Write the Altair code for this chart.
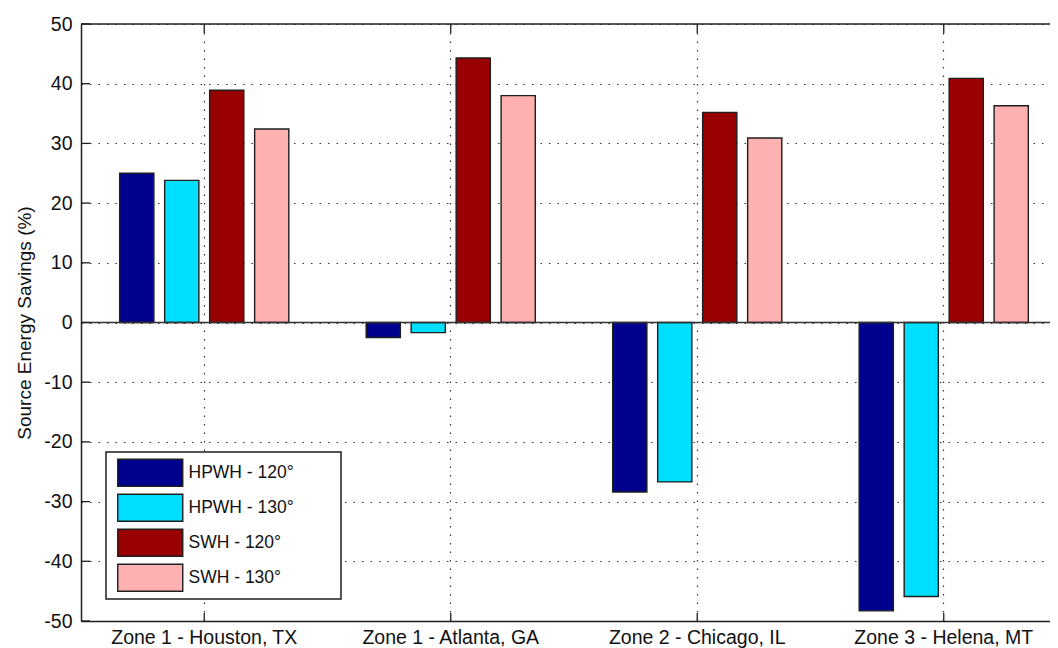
import altair as alt
import pandas as pd

zones = ["Zone 1 - Houston, TX", "Zone 1 - Atlanta, GA", "Zone 2 - Chicago, IL", "Zone 3 - Helena, MT"]
series = ["HPWH - 120°", "HPWH - 130°", "SWH - 120°", "SWH - 130°"]
hpwh_120 = [25.0, -2.5, -28.4, -48.3]
hpwh_130 = [23.8, -1.7, -26.7, -45.9]
swh_120 = [38.9, 44.3, 35.2, 40.9]
swh_130 = [32.4, 38.0, 30.9, 36.3]
colors = ["#00008F", "#00DFFF", "#990000", "#FFB0B0"]
y_ticks = [-50, -40, -30, -20, -10, 0, 10, 20, 30, 40, 50]

values = [hpwh_120, hpwh_130, swh_120, swh_130]
rows = []
for s, vals in zip(series, values):
    for z, v in zip(zones, vals):
        rows.append({"zone": z, "series": s, "value": v})
df = pd.DataFrame(rows)

FONT = "Liberation Sans, Arial, sans-serif"
W, H = 969, 597
INK = "#1e1e1e"

xscale = alt.Scale(domain=zones, range=[0, 986], paddingInner=0, paddingOuter=0)
yscale = alt.Scale(domain=[-50, 50], nice=False, zero=False)

bars = alt.Chart(df).mark_bar(stroke=INK, strokeWidth=1.4).encode(
    x=alt.X("zone:N", scale=xscale, sort=zones, title=None,
            axis=alt.Axis(labelAngle=0, labelFontSize=19.5, labelFont=FONT, labelColor="#111",
                          ticks=False, labelPadding=7, grid=True, bandPosition=0.5,
                          gridDash=[1.5, 7], gridColor="#333", gridWidth=1.2,
                          domainColor=INK, domainWidth=1.5, labelLimit=400)),
    xOffset=alt.XOffset("series:N", sort=series,
                        scale=alt.Scale(domain=series, paddingInner=0.24, paddingOuter=0.86)),
    y=alt.Y("value:Q", scale=yscale, title="Source Energy Savings (%)",
            axis=alt.Axis(values=y_ticks, ticks=False, labelFontSize=19.5, labelFont=FONT,
                          labelExpr="'' + datum.value",
                          labelColor="#111", labelPadding=9, grid=True,
                          gridDash=[1.5, 7], gridColor="#333", gridWidth=1.2,
                          domainColor=INK, domainWidth=1.5,
                          titleFont=FONT, titleFontSize=19, titleFontWeight="normal",
                          titleColor="#111", titlePadding=9)),
    color=alt.Color("series:N", sort=series, scale=alt.Scale(domain=series, range=colors),
                    legend=alt.Legend(orient="none", legendX=60.5, legendY=440, title=None,
                                      symbolType="M-6.5,-2.7H6.5V2.7H-6.5Z", symbolSize=100,
                                      symbolStrokeColor=INK, symbolStrokeWidth=1.4,
                                      symbolOpacity=1, labelFontSize=17.5, labelFont=FONT,
                                      labelColor="#111", labelOffset=29.5, rowPadding=1,
                                      padding=0)),
)

legend_box = alt.Chart(pd.DataFrame({"a": [0]})).mark_rect(
    fill="white", stroke=INK, strokeWidth=1.5
).encode(x=alt.value(25), x2=alt.value(260), y=alt.value(428), y2=alt.value(575))

zero_line = alt.Chart(pd.DataFrame({"v": [0]})).mark_rule(color="#333", strokeWidth=1.3).encode(
    y=alt.Y("v:Q", scale=yscale)
)

top_line = alt.Chart(pd.DataFrame({"a": [0]})).mark_rule(color=INK, strokeWidth=1.5).encode(
    x=alt.value(0), x2=alt.value(W), y=alt.value(0)
)

tick_df = pd.DataFrame({"t": y_ticks})
y_ticks_in = alt.Chart(tick_df).mark_rule(color=INK, strokeWidth=1.3).encode(
    y=alt.Y("t:Q", scale=yscale), x=alt.value(0), x2=alt.value(9)
)

zone_df = pd.DataFrame({"zone": zones})
x_ticks_bottom = alt.Chart(zone_df).mark_rule(color=INK, strokeWidth=1.3).encode(
    x=alt.X("zone:N", scale=xscale, sort=zones), y=alt.value(H), y2=alt.value(H - 8)
)
x_ticks_top = alt.Chart(zone_df).mark_rule(color=INK, strokeWidth=1.3).encode(
    x=alt.X("zone:N", scale=xscale, sort=zones), y=alt.value(0), y2=alt.value(9)
)

chart = alt.layer(
    bars, zero_line, legend_box, top_line, y_ticks_in, x_ticks_bottom, x_ticks_top
).properties(
    width=W, height=H,
    autosize="none",
    padding={"left": 73, "top": 16, "right": 0, "bottom": 36},
    background="white",
).configure_view(stroke=None)

chart.save("out.html", embed_options={"renderer": "svg", "actions": False})
